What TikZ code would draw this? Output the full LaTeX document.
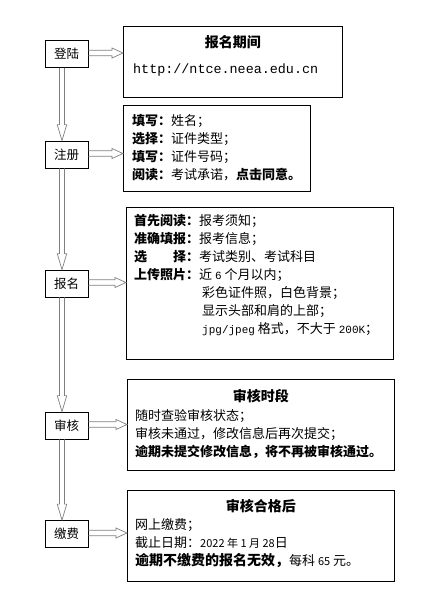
\documentclass[tikz,border=0pt]{standalone}
\usepackage{fontspec}
\setmainfont{Noto Sans CJK SC}
\newfontfamily\monofont{Liberation Mono}
\usepackage{tikz}
\usetikzlibrary{calc}

\tikzset{
    fase/.style={draw, line width=0.8pt, minimum width=43pt, minimum height=27pt, inner sep=0pt, font=\fontsize{12.5}{15}\selectfont},
    riquadro/.style={draw, line width=0.8pt, anchor=north west, inner sep=0pt},
    testo/.style={anchor=base west, inner sep=0pt, font=\fontsize{13}{18}\selectfont},
    titolo/.style={anchor=base, inner sep=0pt, font=\fontsize{14}{18}\selectfont\bfseries},
    giu/.style={draw=black!50, line width=0.7pt, to path={let \p1=(\tikztostart), \p2=(\tikztotarget) in
        (\x1-7pt,\y1) -- (\x1-7pt,\y2+16pt) -- (\x1-9.25pt,\y2+16pt) -- (\x1-4.5pt,\y2)
        -- (\x1+0.25pt,\y2+16pt) -- (\x1-2pt,\y2+16pt) -- (\x1-2pt,\y1)}},
    destra/.style={draw=black!50, line width=0.7pt, to path={let \p1=(\tikztostart), \p2=(\tikztotarget) in
        (\x1,\y1+3.75pt) -- (\x2-11pt,\y1+3.75pt) -- (\x2-11pt,\y1+6pt) -- (\x2,\y1+1pt)
        -- (\x2-11pt,\y1-4pt) -- (\x2-11pt,\y1-1.75pt) -- (\x1,\y1-1.75pt)}}
}

\begin{document}
\begin{tikzpicture}[x=1pt, y=-1pt]
    \useasboundingbox (0,0) rectangle (431,600);

    % Disegna le fasi a sinistra
    \node[fase] (dl) at (66.5,54) {登陆};
    \node[fase] (zc) at (66.5,154.5) {注册};
    \node[fase] (bm) at (66.5,283.5) {报名};
    \node[fase] (sh) at (66.5,425.5) {审核};
    \node[fase] (jf) at (66.5,534) {缴费};

    % Disegna i riquadri a destra
    \node[riquadro, minimum width=219pt, minimum height=71pt] (r1) at (123,26) {};
    \node[riquadro, minimum width=187pt, minimum height=86pt] (r2) at (123,105) {};
    \node[riquadro, minimum width=267pt, minimum height=152pt] (r3) at (126,207) {};
    \node[riquadro, minimum width=267pt, minimum height=91pt] (r4) at (127,379) {};
    \node[riquadro, minimum width=267pt, minimum height=91pt] (r5) at (127,490) {};

    % Testo dei riquadri
    \node[titolo] (h1) at (r1.north |- 0,47.3) {报名期间};
    \node[testo, font=\fontsize{13.4}{18}\monofont] (c1) at (133,73) {http://ntce.neea.edu.cn};

    \node[testo] (c2) at (132,125) {\begin{tabular}[t]{@{}l@{}}
        \textbf{填写：}姓名；\\
        \textbf{选择：}证件类型；\\
        \textbf{填写：}证件号码；\\
        \textbf{阅读：}考试承诺，\textbf{点击同意。}
    \end{tabular}};

    \node[testo] (c3) at (134,225) {\begin{tabular}[t]{@{}l@{}l@{}}
        \textbf{首先阅读：} & 报考须知；\\
        \textbf{准确填报：} & 报考信息；\\
        \textbf{选\hspace{2em}择：} & 考试类别、考试科目\\
        \textbf{上传照片：} & 近 {\monofont\fontsize{11}{18}\selectfont 6} 个月以内；\\
         & \hspace{3pt}彩色证件照，白色背景；\\
         & \hspace{3pt}显示头部和肩的上部；\\
         & \hspace{3pt}{\monofont\fontsize{11}{18}\selectfont jpg/jpeg} 格式，不大于 {\monofont\fontsize{11}{18}\selectfont 200K}；
    \end{tabular}};

    \node[titolo] (h4) at (r4.north |- 0,401.3) {审核时段};
    \node[testo] (c4) at (135,420) {\begin{tabular}[t]{@{}l@{}}
        随时查验审核状态；\\
        审核未通过，修改信息后再次提交；\\
        \textbf{逾期未提交修改信息，将不再被审核通过。}
    \end{tabular}};

    \node[titolo] (h5) at (r5.north |- 0,511.3) {审核合格后};
    \node[testo] (c5) at (135,529) {\begin{tabular}[t]{@{}l@{}}
        网上缴费；\\
        截止日期：{\fontsize{11}{18}\selectfont 2022 年 1 月 28}日\\
        {\fontsize{14}{18}\selectfont\bfseries 逾期不缴费的报名无效，}每科 {\fontsize{11}{18}\selectfont 65} 元。
    \end{tabular}};

    % Frecce verso il basso
    \draw[giu] (dl.south) to (zc.north);
    \draw[giu] (zc.south) to (bm.north);
    \draw[giu] (bm.south) to (sh.north);
    \draw[giu] (sh.south) to (jf.north);

    % Frecce verso destra
    \draw[destra] (dl.east) to (dl.east -| r1.west);
    \draw[destra] (zc.east) to (zc.east -| r2.west);
    \draw[destra] (bm.east) to (bm.east -| r3.west);
    \draw[destra] (sh.east) to (sh.east -| r4.west);
    \draw[destra] (jf.east) to (jf.east -| r5.west);
\end{tikzpicture}
\end{document}
